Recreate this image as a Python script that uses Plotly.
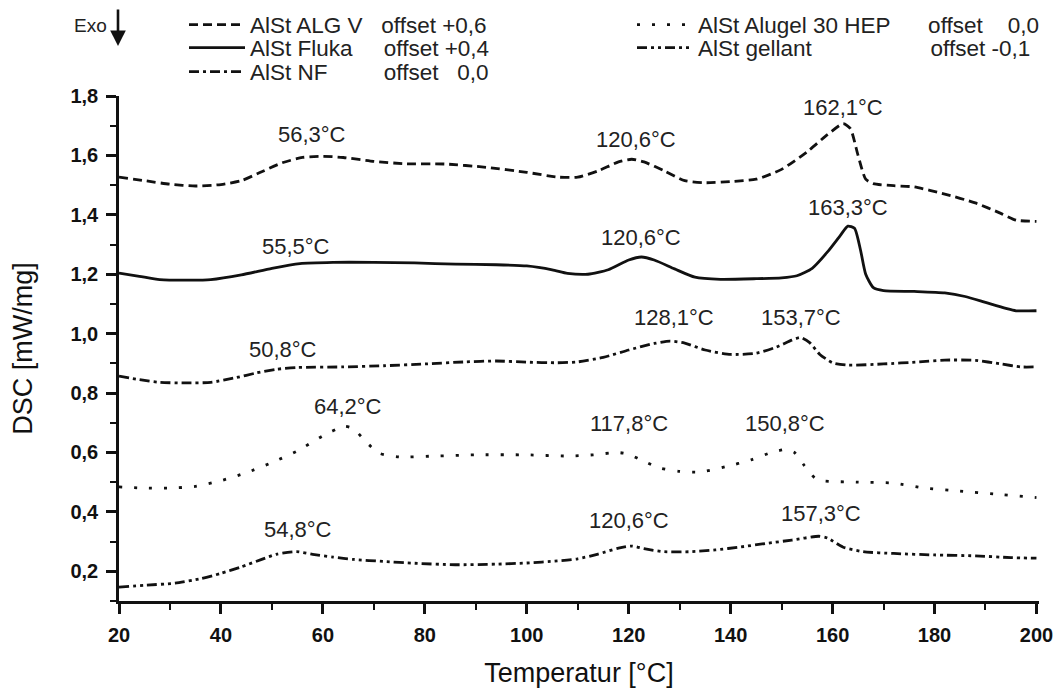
import plotly.graph_objects as go

# ---------------- data (temperature in °C, DSC in mW/mg incl. offset) -------------
alg_T = [20, 25, 30, 35, 40, 44, 48, 52, 56, 60, 64, 70, 76, 84, 92, 100, 106, 110, 114, 118,
         120.6, 123, 127, 131, 135, 140, 145, 150, 155, 159, 162.1, 163.5, 165, 166.5, 168,
         172, 176, 182, 188, 193, 196, 200]
alg_v = [1.527, 1.515, 1.503, 1.497, 1.502, 1.515, 1.545, 1.575, 1.593, 1.597, 1.593, 1.580,
         1.572, 1.571, 1.560, 1.543, 1.527, 1.527, 1.548, 1.578, 1.587, 1.578, 1.548, 1.515,
         1.508, 1.512, 1.520, 1.553, 1.612, 1.670, 1.707, 1.690, 1.600, 1.520, 1.505, 1.498,
         1.494, 1.470, 1.440, 1.405, 1.382, 1.378]

fluka_T = [20, 24, 28, 34, 38, 44, 50, 55.5, 62, 70, 78, 86, 94, 100, 105, 108, 112, 116, 120,
           122.5, 125, 129, 133, 138, 145, 150, 153, 156, 159, 161.5, 163, 164.3, 165.5, 166.5,
           168, 170, 176, 182, 186, 190, 194, 196, 200]
fluka_v = [1.204, 1.193, 1.182, 1.180, 1.182, 1.198, 1.220, 1.236, 1.240, 1.240, 1.238, 1.234,
           1.232, 1.228, 1.215, 1.203, 1.200, 1.215, 1.248, 1.258, 1.248, 1.218, 1.190, 1.183,
           1.185, 1.188, 1.195, 1.220, 1.275, 1.330, 1.362, 1.355, 1.280, 1.200, 1.155, 1.145,
           1.142, 1.137, 1.125, 1.105, 1.085, 1.077, 1.077]

nf_T = [20, 24, 28, 33, 38, 43, 47, 50.8, 55, 64, 72, 80, 88, 94, 100, 106, 110, 115, 120, 125,
        128.1, 131, 135, 140, 145, 149, 152, 153.7, 155.5, 157.5, 160, 163, 170, 177, 182, 188,
        193, 197, 200]
nf_v = [0.857, 0.845, 0.836, 0.834, 0.836, 0.852, 0.868, 0.880, 0.886, 0.888, 0.892, 0.898,
        0.905, 0.908, 0.904, 0.902, 0.905, 0.920, 0.945, 0.967, 0.975, 0.968, 0.945, 0.930,
        0.934, 0.955, 0.978, 0.987, 0.970, 0.930, 0.902, 0.894, 0.898, 0.905, 0.911, 0.910,
        0.898, 0.888, 0.888]

alu_T = [20, 25, 30, 35, 40, 45, 50, 55, 60, 64.2, 66, 68.5, 71, 75, 82, 90, 100, 108, 113,
         117.8, 120, 123, 126, 130, 134, 139, 144, 148, 150.8, 152.5, 154.5, 156.5, 158, 165,
         172, 178, 185, 192, 200]
alu_v = [0.484, 0.480, 0.480, 0.486, 0.505, 0.532, 0.566, 0.605, 0.656, 0.688, 0.680, 0.635,
         0.598, 0.585, 0.588, 0.592, 0.592, 0.588, 0.592, 0.600, 0.594, 0.570, 0.548, 0.536,
         0.534, 0.552, 0.575, 0.600, 0.610, 0.600, 0.555, 0.515, 0.505, 0.500, 0.497, 0.480,
         0.470, 0.460, 0.448]

gel_T = [20, 25, 31, 36, 40, 44, 48, 51, 54.8, 58, 62, 66, 72, 78, 86, 94, 100, 106, 110, 114,
         118, 120.6, 123, 127, 132, 137, 142, 147, 152, 157.3, 159, 162, 166, 172, 180, 188,
         195, 200]
gel_v = [0.147, 0.153, 0.160, 0.175, 0.193, 0.215, 0.240, 0.258, 0.266, 0.257, 0.248, 0.240,
         0.233, 0.227, 0.222, 0.224, 0.228, 0.235, 0.242, 0.258, 0.278, 0.285, 0.276, 0.266,
         0.266, 0.272, 0.282, 0.294, 0.305, 0.318, 0.312, 0.282, 0.266, 0.260, 0.255, 0.252,
         0.246, 0.244]

# peak labels: text, x (°C), y (mW/mg)
peak_text = ["56,3°C", "55,5°C", "120,6°C", "162,1°C", "163,3°C", "120,6°C", "128,1°C",
             "153,7°C", "50,8°C", "64,2°C", "54,8°C", "117,8°C", "150,8°C", "120,6°C", "157,3°C"]
peak_x = [57.8, 54.8, 121.5, 162.0, 163.0, 122.5, 128.8, 153.8, 52.1, 65.0, 55.2, 120.0,
          150.7, 120.0, 157.7]
peak_y = [1.669, 1.295, 1.652, 1.760, 1.426, 1.325, 1.053, 1.056, 0.945, 0.756, 0.342, 0.699,
          0.699, 0.372, 0.396]

NB = "\u00a0"
series = [
    # name, T, v, dash, legend id, legend x(px), legend y(px)
    ("AlSt ALG V" + NB * 3 + "offset" + NB + "+0,6", alg_T, alg_v, "9px,5px", "legend", 184, 25),
    ("AlSt Fluka" + NB * 5 + "offset" + NB + "+0,4", fluka_T, fluka_v, "solid", "legend2", 184, 48),
    ("AlSt NF" + NB * 9 + "offset" + NB * 3 + "0,0", nf_T, nf_v, "10px,4px,3px,4px", "legend3", 184, 72),
    ("AlSt Alugel 30 HEP" + NB * 6 + "offset" + NB * 4 + "0,0", alu_T, alu_v, "3px,12px", "legend4", 632, 25),
    ("AlSt gellant" + NB * 19 + "offset" + NB + "-0,1", gel_T, gel_v, "10px,4px,3px,4px,3px,4px", "legend5", 632, 48),
]

W, H = 1057, 688
ML, MR, MT, MB = 119, 18, 96, 87
PW, PH = W - ML - MR, H - MT - MB


def px2paper(xp, yp):
    return (xp - ML) / PW, 1 + (MT - yp) / PH


FONT = "Liberation Sans, Arial, sans-serif"
fig = go.Figure()
layout_legends = {}
for name, T, v, dash, lg, lx, ly in series:
    fig.add_trace(go.Scatter(
        x=T, y=v, mode="lines", name=name, legend=lg,
        line=dict(color="#111111", width=2.8, dash=dash, shape="spline", smoothing=0.6),
        hoverinfo="skip",
    ))
    px_, py_ = px2paper(lx, ly)
    layout_legends[lg] = dict(
        x=px_, y=py_, xanchor="left", yanchor="middle", xref="paper", yref="paper",
        bgcolor="rgba(0,0,0,0)", borderwidth=0, itemwidth=56,
        font=dict(family=FONT, size=22.5, color="#222222"),
    )

annotations = []
for t, x, y in zip(peak_text, peak_x, peak_y):
    annotations.append(dict(x=x, y=y, xref="x", yref="y", text=t, showarrow=False,
                            xanchor="center", yanchor="middle",
                            font=dict(family=FONT, size=22, color="#222222")))

ex, ey = px2paper(90, 26)
annotations.append(dict(x=ex, y=ey, xref="paper", yref="paper", text="Exo", showarrow=False,
                        xanchor="center", yanchor="middle",
                        font=dict(family=FONT, size=19, color="#222222")))
axp, ayp = px2paper(118, 46)
annotations.append(dict(x=axp, y=ayp, xref="paper", yref="paper", text="", showarrow=True,
                        ax=0, ay=-38, arrowhead=2, arrowsize=1.2, arrowwidth=2.6,
                        arrowcolor="#111111"))

fig.update_layout(
    width=W, height=H,
    margin=dict(l=ML, r=MR, t=MT, b=MB, autoexpand=False),
    paper_bgcolor="white", plot_bgcolor="white",
    separators=", ",
    showlegend=True,
    annotations=annotations,
    **layout_legends,
)

fig.update_xaxes(
    range=[20, 200.5], tickmode="linear", tick0=20, dtick=20,
    showline=True, linewidth=2.5, linecolor="#111111", mirror=False,
    showgrid=False, zeroline=False,
    ticks="outside", ticklen=10, tickwidth=2.5, tickcolor="#111111",
    minor=dict(dtick=10, ticks="outside", ticklen=6, tickwidth=2.2, tickcolor="#111111", showgrid=False),
    tickfont=dict(family=FONT, size=20, color="#111111", weight="bold"),
    ticklabelstandoff=4,
    title=dict(text="Temperatur [°C]", font=dict(family=FONT, size=27, color="#111111"), standoff=20),
)
fig.update_yaxes(
    range=[0.1, 1.8], tickmode="linear", tick0=0.2, dtick=0.2, tickformat=".1f",
    showline=True, linewidth=2.5, linecolor="#111111", mirror=False,
    showgrid=False, zeroline=False,
    ticks="outside", ticklen=10, tickwidth=2.5, tickcolor="#111111",
    minor=dict(dtick=0.1, ticks="outside", ticklen=6, tickwidth=2.2, tickcolor="#111111", showgrid=False),
    tickfont=dict(family=FONT, size=20, color="#111111", weight="bold"),
    ticklabelstandoff=4,
    title=dict(text="DSC [mW/mg]", font=dict(family=FONT, size=27, color="#111111"), standoff=30),
)

fig.write_html("out.html")
